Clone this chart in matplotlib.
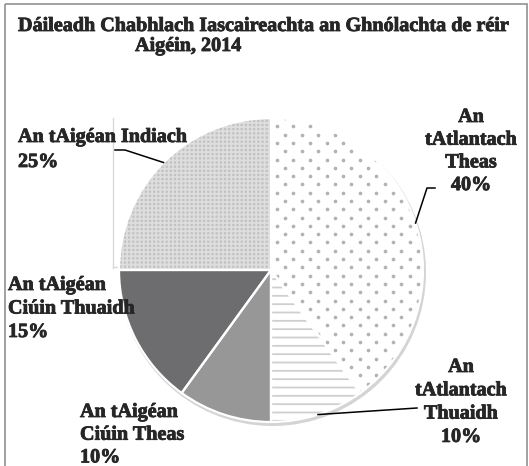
import matplotlib
matplotlib.use("Agg")
import matplotlib.pyplot as plt
import matplotlib.patheffects as pe
from matplotlib.patches import Rectangle, Circle
import numpy as np

# ---------------- data ----------------
title_lines = ["Dáileadh Chabhlach Iascaireachta an Ghnólachta de réir", "Aigéin, 2014"]
categories = ["An\ntAtlantach\nTheas", "An\ntAtlantach\nThuaidh", "An tAigéan\nCiúin Theas",
              "An tAigéan\nCiúin Thuaidh", "An tAigéan Indiach"]
values = [40, 10, 10, 15, 25]

# ---------------- styles ----------------
face_colors = ["white", "white", "#979797", "#6d6d6f", "#c2c2c2"]
hatch_colors = ["white", "#cfcfcf", "#979797", "#6d6d6f", "#dedede"]
hatches = [None, "--", None, None, "++++"]

# label layout: (x, first baseline, line step, ha)
label_layout = [
    (471, 122, 22.7, "center"),
    (461, 372, 23.3, "center"),
    (80, 417, 22.7, "left"),
    (8, 290, 23.5, "left"),
    (18, 142, 25.0, "left"),
]

W, H = 529, 466
cx, cy, R = 271, 270, 152
FONT = "Liberation Serif"
FS = 14.5
TXT = "#262626"
heavy = [pe.withStroke(linewidth=0.6, foreground=TXT)]

plt.rcParams["hatch.linewidth"] = 1.3

fig = plt.figure(figsize=(W / 100, H / 100), dpi=100)
ax = fig.add_axes([0, 0, 1, 1])

# frame
ax.add_patch(Rectangle((4.5, 3.5), W - 7, H + 10, fill=False, edgecolor="#9a9a9a", lw=1.3, zorder=0))
# faint plot-area line
ax.plot([113, 113], [118, 268], color="#dadada", lw=1.0, zorder=0)
ax.plot([113, 120], [267, 267], color="#dadada", lw=1.0, zorder=0)

# shadow
ax.add_patch(Circle((cx + 1.5, cy + 2.5), R + 1.5, facecolor="#d4d4d4", edgecolor="none", zorder=1))

wedges, _ = ax.pie(values, startangle=-90, counterclock=True, center=(cx, cy), radius=R,
                   wedgeprops=dict(linewidth=0), frame=False)
for w, fc, hc, ht in zip(wedges, face_colors, hatch_colors, hatches):
    w.set_facecolor(fc)
    w.set_edgecolor(hc)
    w.set_linewidth(0)
    if ht:
        w.set_hatch(ht)
    w.set_zorder(2)

# dotted texture for first wedge (diamond lattice), clipped to the wedge
gx, gy = 16.6, 8.3
pts = []
for j, yy in enumerate(np.arange(cy - R, cy + R + gy, gy)):
    off = 0 if j % 2 == 0 else gx / 2
    for xx in np.arange(cx - R + off, cx + R + gx, gx):
        pts.append((xx, yy))
pts = np.array(pts)
sc = ax.scatter(pts[:, 0], pts[:, 1], s=7, c="#b2b2b2", linewidths=0, zorder=2.5)
sc.set_clip_path(wedges[0])

# white separators on top
wedges2, _ = ax.pie(values, startangle=-90, counterclock=True, center=(cx, cy), radius=R,
                    wedgeprops=dict(linewidth=1.6, edgecolor="white", facecolor="none"), frame=False)
for w in wedges2:
    w.set_zorder(3)

ax.set_xlim(0, W)
ax.set_ylim(H, 0)
ax.set_aspect("auto")
ax.axis("off")

# labels
for cat, v, (x, y0, dy, ha) in zip(categories, values, label_layout):
    lines = cat.split("\n") + [f"{v}%"]
    for i, ln in enumerate(lines):
        ax.text(x, y0 + i * dy, ln, ha=ha, va="baseline", fontsize=FS, fontweight="bold",
                family=FONT, color=TXT, zorder=5, path_effects=heavy)

# leader lines from wedge mid-angles
cum = np.cumsum([0] + values[:-1])
mid = [-90 + 360 * (c + v / 2) / 100 for c, v in zip(cum, values)]
def edge(i):
    a = np.deg2rad(mid[i])
    return cx + R * np.cos(a), cy + R * np.sin(a)

ex, ey = edge(0)
ax.plot([ex, 427, 435], [ey, 188, 188], color="black", lw=1.1, zorder=6)
ex, ey = edge(1)
ax.plot([ex, 417], [ey, 408], color="black", lw=1.1, zorder=6)
ex, ey = edge(4)
ax.plot([115, 125, ex], [150, 150, ey], color="black", lw=1.1, zorder=6)

# title
ax.text(18, 31, title_lines[0], ha="left", va="baseline", fontsize=FS, fontweight="bold",
        family=FONT, color=TXT, path_effects=heavy)
ax.text(135, 51, title_lines[1], ha="left", va="baseline", fontsize=FS, fontweight="bold",
        family=FONT, color=TXT, path_effects=heavy)

fig.savefig("out.png", dpi=100)
